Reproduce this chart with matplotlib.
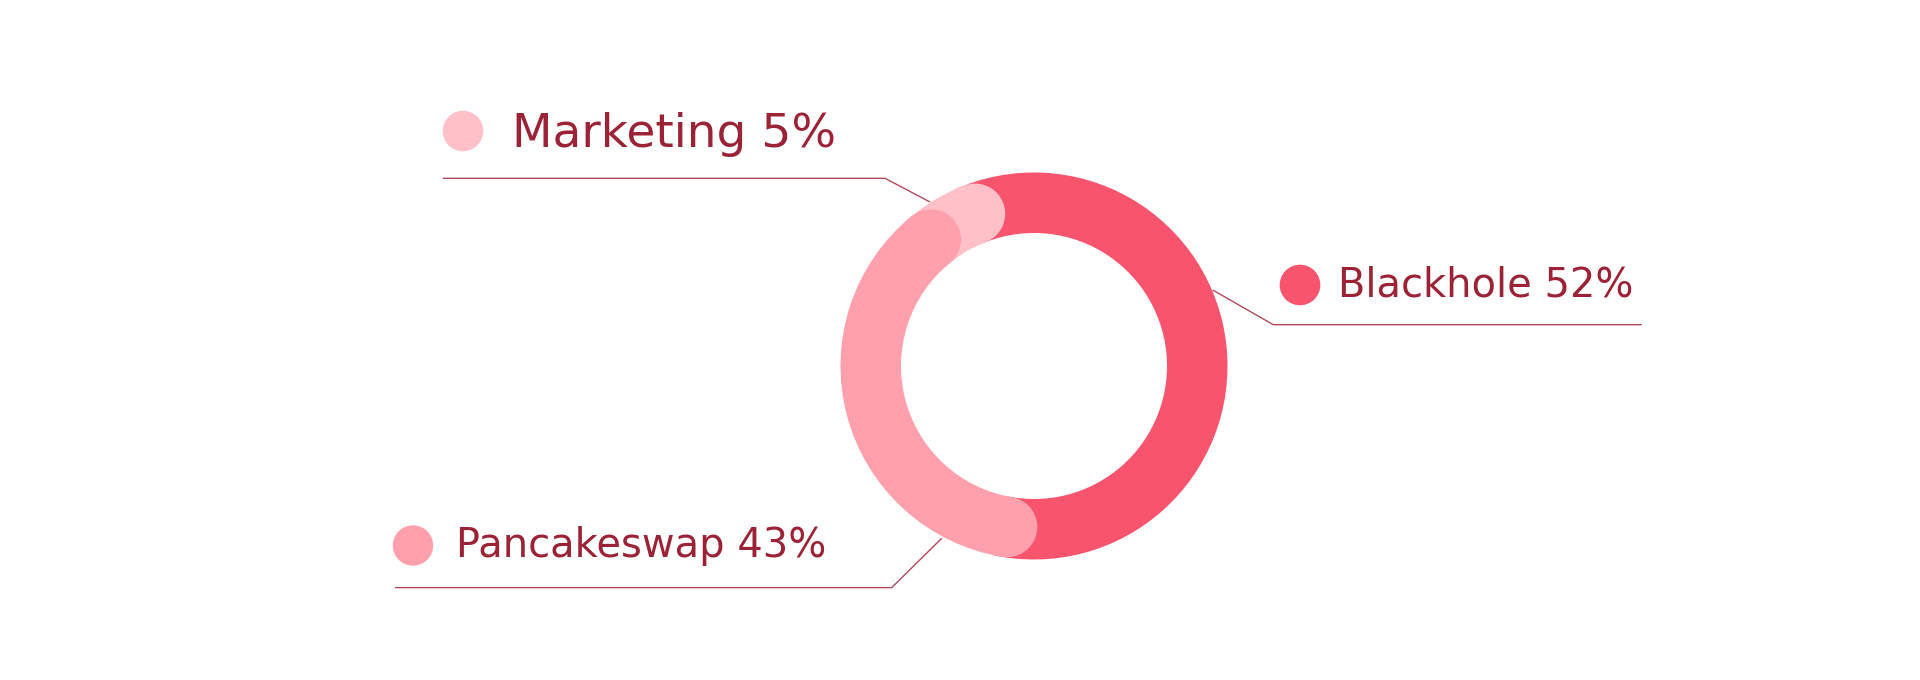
import numpy as np
import matplotlib
matplotlib.use("Agg")
import matplotlib.pyplot as plt
from matplotlib.patches import Wedge, Circle

# ---------------- data ----------------
labels = ["Blackhole", "Pancakeswap", "Marketing"]
values = [52, 43, 5]
colors = ["#F9546E", "#FFA0AC", "#FFC0C8"]
layer = [1, 3, 2]          # which segment sits on top at shared boundaries

# ---------------- style / layout (pixels, top-left origin) ----------------
W, H = 1920, 680
center_px = (1034, 366)
R_out = 193.5
ring_w = 60.5
start_deg = 99.45          # where the first segment begins (clockwise)
inset_deg = 11.75          # rounded cap inset into the segment on top
hidden_ext = 3.0           # extension under the neighbouring segment

text_color = "#9C2235"
line_color = "#B4485C"

label_style = {
    "Blackhole":   dict(dot=(1300, 285), dot_r=20.3, text=(1338, 296.7), size_px=40,
                        line=[(1212.7, 290), (1273.3, 324.7), (1641.7, 324.7)]),
    "Pancakeswap": dict(dot=(413, 545.5), dot_r=20.2, text=(455.5, 556.5), size_px=40,
                        line=[(941.7, 538.3), (891.7, 587.6), (395.0, 587.6)]),
    "Marketing":   dict(dot=(463, 131), dot_r=20.3, text=(511.7, 147.3), size_px=47,
                        line=[(930, 202), (885, 178.3), (442.7, 178.3)]),
}

# ---------------- figure ----------------
fig = plt.figure(figsize=(W / 100, H / 100), dpi=100)
ax = fig.add_axes([0, 0, 1, 1])
ax.set_xlim(0, W)
ax.set_ylim(0, H)
ax.axis("off")
fig.patch.set_facecolor("white")


def P(x, y):
    """pixel (top-left origin) -> data coordinates"""
    return (x, H - y)


cx, cy = P(*center_px)
r_mid = R_out - ring_w / 2
cap_r = ring_w / 2

total = float(sum(values))
n = len(values)
spans = [360.0 * v / total for v in values]
starts = [start_deg - sum(spans[:k]) for k in range(n)]
ends = [starts[k] - spans[k] for k in range(n)]

order = sorted(range(n), key=lambda k: layer[k])
for k in order:
    prev_k = (k - 1) % n
    next_k = (k + 1) % n
    caps = []
    # start side (higher angle)
    if layer[k] > layer[prev_k]:
        hi = starts[k] - inset_deg
        caps.append(hi)
    else:
        hi = starts[k] + inset_deg + hidden_ext
    # end side (lower angle)
    if layer[k] > layer[next_k]:
        lo = ends[k] + inset_deg
        caps.append(lo)
    else:
        lo = ends[k] - inset_deg - hidden_ext
    ax.add_patch(Wedge((cx, cy), R_out, lo, hi, width=ring_w,
                       facecolor=colors[k], edgecolor="none", linewidth=0,
                       zorder=layer[k]))
    for a in caps:
        t = np.deg2rad(a)
        ax.add_patch(Circle((cx + r_mid * np.cos(t), cy + r_mid * np.sin(t)), cap_r,
                            facecolor=colors[k], edgecolor="none", linewidth=0,
                            zorder=layer[k]))

# ---------------- labels ----------------
for k, name in enumerate(labels):
    st = label_style[name]
    xs = [P(*p)[0] for p in st["line"]]
    ys = [P(*p)[1] for p in st["line"]]
    ax.plot(xs, ys, color=line_color, lw=1.0, solid_capstyle="butt", zorder=0)
    ax.add_patch(Circle(P(*st["dot"]), st["dot_r"], facecolor=colors[k],
                        edgecolor="none", zorder=5))
    tx, ty = P(*st["text"])
    ax.text(tx, ty, f"{name} {values[k]}%", color=text_color,
            fontsize=st["size_px"] * 0.72, family=["DejaVu Sans"],
            ha="left", va="baseline", zorder=5)

fig.savefig("out.png", dpi=100, facecolor="white")
